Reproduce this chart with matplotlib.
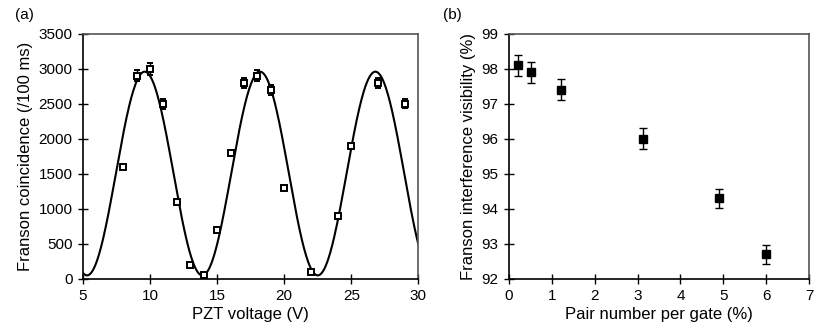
import numpy as np
from matplotlib import pyplot as plt

# (a) Franson interference fringe
pzt_volt = [8, 9, 10, 11, 12, 13, 14, 15, 16, 17, 18, 19, 20, 22, 24, 25, 27, 29]
coinc = [1600, 2900, 3000, 2500, 1100, 200, 50, 700, 1800, 2800, 2900, 2700, 1300, 100, 900, 1900, 2800, 2500]
coinc_err = [20, 80, 85, 70, 30, 15, 10, 20, 30, 75, 80, 75, 25, 10, 20, 40, 75, 65]

# sinusoidal fit parameters
fit_offset = 1505
fit_amp = 1455
fit_period = 8.6
fit_peak = 9.6

# (b) visibility vs pair number
pair_num = [0.22, 0.52, 1.22, 3.12, 4.9, 6.0]
visib = [98.1, 97.9, 97.4, 96.0, 94.3, 92.7]
visib_err = [0.3, 0.3, 0.3, 0.3, 0.28, 0.28]

plt.rcParams['font.family'] = ['Liberation Sans', 'DejaVu Sans']

fig = plt.figure(figsize=(8.3, 3.32), dpi=100)
ax1 = fig.add_axes([0.100, 0.160, 0.404, 0.738])
ax2 = fig.add_axes([0.613, 0.160, 0.362, 0.738])


def style_axes(ax):
    ax.tick_params(direction='inout', length=7, width=1, labelsize=11, colors='black', pad=4)
    for side in ['left', 'bottom']:
        ax.spines[side].set_color('black')
        ax.spines[side].set_linewidth(1.2)
    for side in ['top', 'right']:
        ax.spines[side].set_color('#555555')
        ax.spines[side].set_linewidth(1.2)


# left panel
vv = np.linspace(5, 30, 500)
ax1.plot(vv, fit_offset + fit_amp * np.cos(2 * np.pi * (vv - fit_peak) / fit_period),
         color='black', lw=1.5, zorder=2)
ax1.errorbar(pzt_volt, coinc, yerr=coinc_err, fmt='s', ms=5, mfc='white', mec='black',
             mew=1.4, ecolor='black', elinewidth=1, capsize=2.5, zorder=3)
ax1.set_xlim(5, 30)
ax1.set_ylim(0, 3500)
ax1.set_xticks(range(5, 31, 5))
ax1.set_yticks(range(0, 3501, 500))
ax1.set_xlabel('PZT voltage (V)', fontsize=12, labelpad=3)
ax1.set_ylabel('Franson coincidence (/100 ms)', fontsize=12, labelpad=4)
style_axes(ax1)

# right panel
ax2.errorbar(pair_num, visib, yerr=visib_err, fmt='s', ms=6, mfc='black', mec='black',
             ecolor='black', elinewidth=1, capsize=3, zorder=3)
ax2.set_xlim(0, 7)
ax2.set_ylim(92, 99)
ax2.set_xticks(range(0, 8))
ax2.set_yticks(range(92, 100))
ax2.set_xlabel('Pair number per gate (%)', fontsize=12, labelpad=3)
ax2.set_ylabel('Franson interference visibility (%)', fontsize=12, labelpad=4)
style_axes(ax2)

fig.text(0.018, 0.955, '(a)', fontsize=11, va='center', ha='left')
fig.text(0.534, 0.955, '(b)', fontsize=11, va='center', ha='left')

plt.savefig('out.png', dpi=100)
